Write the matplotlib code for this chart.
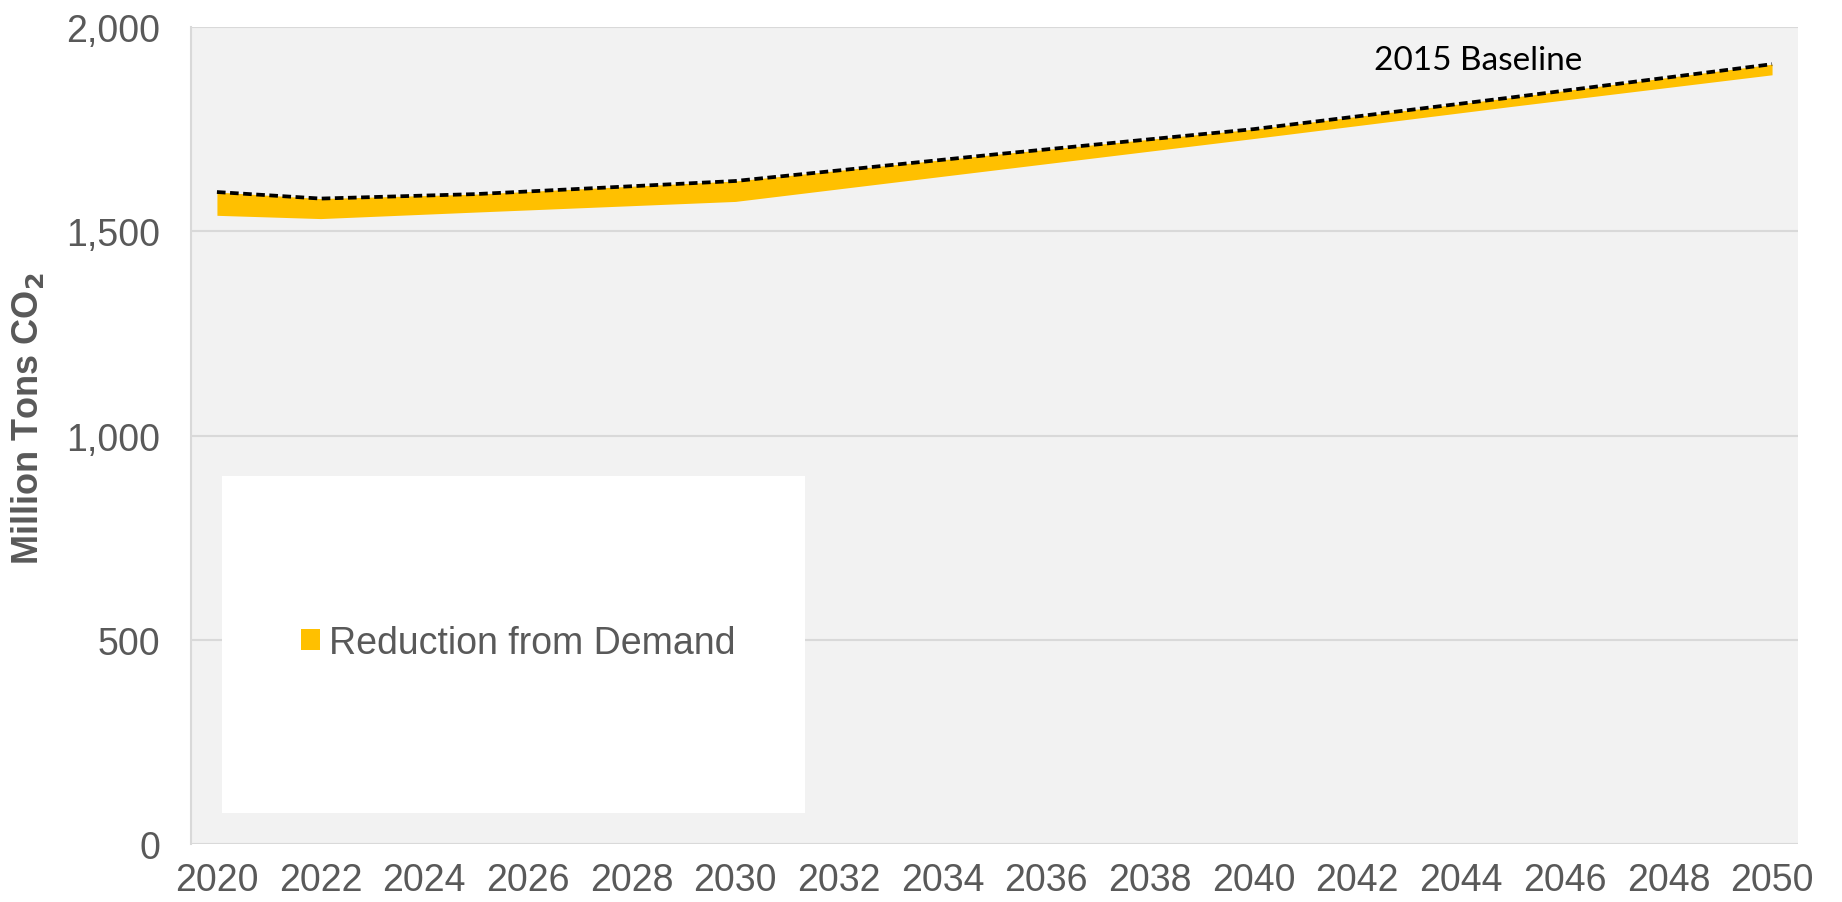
import matplotlib
matplotlib.use("Agg")
import matplotlib.pyplot as plt
from matplotlib.patches import Rectangle
from matplotlib.ticker import FuncFormatter

years = [2020, 2022, 2025, 2030, 2035, 2040, 2045, 2050]
baseline_2015 = [1596, 1580, 1591, 1623, 1688, 1750, 1828, 1909]
after_demand = [1539, 1531, 1547, 1573, 1650, 1727, 1806, 1883]
tick_years = list(range(2020, 2051, 2))
y_ticks = [0, 500, 1000, 1500, 2000]

grey_text = "#595959"
plt.rcParams['font.family'] = ['Liberation Sans', 'DejaVu Sans']

fig = plt.figure(figsize=(18.42, 9.03), dpi=100)
ax = fig.add_axes([0.1037, 0.0642, 0.9761 - 0.1037, 0.969 - 0.0642])
ax.set_facecolor("#F2F2F2")

ax.fill_between(years, after_demand, baseline_2015, color="#FFC000", linewidth=0,
                label="Reduction from Demand", zorder=3)
ax.plot(years, baseline_2015, color="black", linewidth=2.7, linestyle=(0, (2.3, 1.2)),
        zorder=4)

ax.set_xlim(2019.5, 2050.5)
ax.set_ylim(0, 2000)
ax.set_xticks(tick_years)
ax.set_xticklabels([str(y) for y in tick_years])
ax.set_yticks(y_ticks)
ax.yaxis.set_major_formatter(FuncFormatter(lambda v, p: f"{int(v):,}"))
ax.grid(axis="y", color="#D9D9D9", linewidth=1.5, zorder=1)
ax.set_axisbelow(True)
ax.tick_params(axis="both", length=0, labelsize=27, labelcolor=grey_text)
ax.tick_params(axis="y", pad=22)
ax.tick_params(axis="x", pad=13)

for s in ["top", "right", "bottom"]:
    ax.spines[s].set_visible(False)
ax.spines["left"].set_color("#D9D9D9")
ax.spines["left"].set_linewidth(1.5)

ax.set_ylabel("Million Tons CO$_\\mathbf{2}$", fontsize=26, fontweight="bold",
              color=grey_text)
ax.yaxis.set_label_coords(-0.09, 0.522)

# legend area
ax.add_patch(Rectangle((0.0193, 0.038), 0.382 - 0.0193, 0.450 - 0.038,
                       transform=ax.transAxes, facecolor="white", edgecolor="none",
                       zorder=2))
leg = ax.legend(loc="center left", bbox_to_anchor=(0.059, 0.246), frameon=False,
                fontsize=27, handlelength=0.5, handleheight=0.5, handletextpad=0.25,
                borderaxespad=0)
for t in leg.get_texts():
    t.set_color(grey_text)

ax.text(2044.33, 1920, "2015 Baseline", fontsize=24, color="black",
        family=['Lato', 'DejaVu Sans'], ha="center", va="center", zorder=5)

fig.savefig("out.png", dpi=100)
